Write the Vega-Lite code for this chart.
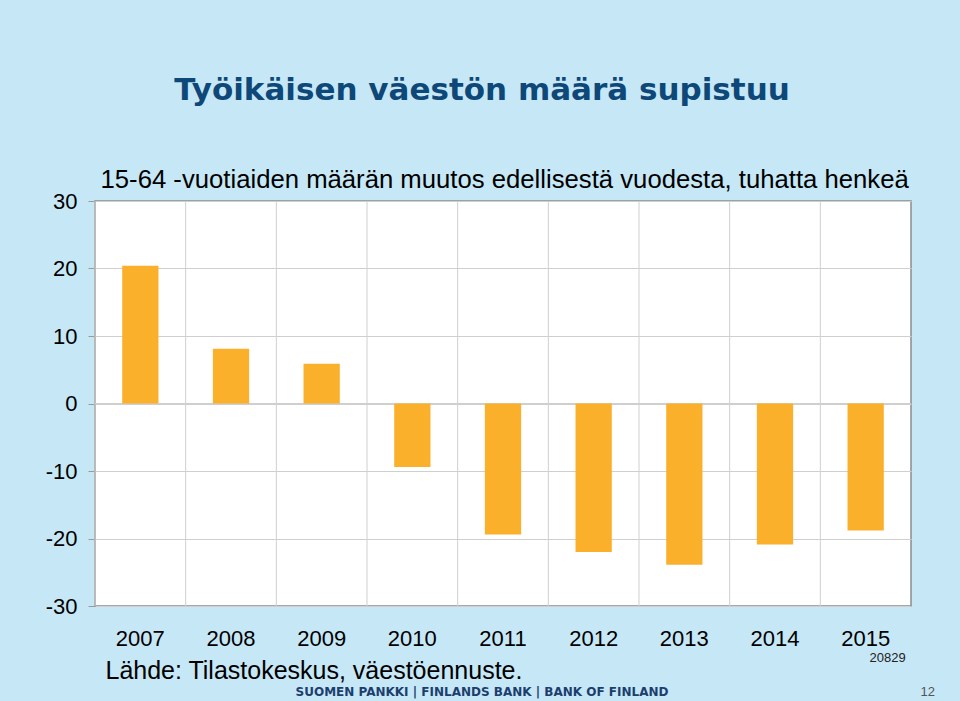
{
  "$schema": "https://vega.github.io/schema/vega-lite/v6.json",
  "width": 816,
  "height": 405,
  "autosize": {"type": "none"},
  "padding": {"left": 95, "top": 201, "right": 49, "bottom": 95},
  "background": "#c6e7f6",
  "title": {
    "text": "Työikäisen väestön määrä supistuu",
    "subtitle": "SUOMEN PANKKI | FINLANDS BANK | BANK OF FINLAND",
    "orient": "top",
    "anchor": "middle",
    "frame": "group",
    "dx": -21,
    "offset": -533,
    "subtitlePadding": 580,
    "font": "DejaVu Sans",
    "fontSize": 31,
    "fontWeight": "bold",
    "color": "#0d4878",
    "subtitleFont": "DejaVu Sans",
    "subtitleFontSize": 12,
    "subtitleFontWeight": "bold",
    "subtitleColor": "#1c3e6e"
  },
  "config": {
    "view": {"fill": "white", "stroke": "#8c8c8c", "strokeWidth": 1.5}
  },
  "datasets": {
    "muutos": [
      {"vuosi": "2007", "muutos": 20.4},
      {"vuosi": "2008", "muutos": 8.1},
      {"vuosi": "2009", "muutos": 5.9},
      {"vuosi": "2010", "muutos": -9.4},
      {"vuosi": "2011", "muutos": -19.4},
      {"vuosi": "2012", "muutos": -22.0},
      {"vuosi": "2013", "muutos": -23.9},
      {"vuosi": "2014", "muutos": -20.9},
      {"vuosi": "2015", "muutos": -18.8}
    ],
    "nolla": [{"arvo": 0}]
  },
  "layer": [
    {
      "data": {"name": "muutos"},
      "mark": {"type": "rule", "color": "#cfcfcf", "strokeWidth": 1},
      "encoding": {
        "x": {
          "field": "vuosi",
          "type": "ordinal",
          "bandPosition": 0,
          "scale": {"type": "band", "paddingInner": 0, "paddingOuter": 0},
          "axis": {
            "orient": "bottom",
            "labels": false,
            "ticks": false,
            "domain": false,
            "grid": false,
            "title": "20829",
            "titleFont": "Liberation Sans",
            "titleFontSize": 13,
            "titleFontWeight": "normal",
            "titleColor": "#222222",
            "titleAlign": "left",
            "titleBaseline": "alphabetic",
            "titleX": 774,
            "titleY": 55
          }
        }
      }
    },
    {
      "data": {"name": "nolla"},
      "mark": {"type": "rule", "color": "#cfcfcf", "strokeWidth": 1},
      "encoding": {
        "y": {
          "field": "arvo",
          "type": "quantitative",
          "scale": {"domain": [-30, 30], "nice": false},
          "axis": {
            "orient": "right",
            "labels": false,
            "ticks": false,
            "domain": false,
            "grid": false,
            "title": "12",
            "titleFont": "Liberation Sans",
            "titleFontSize": 13,
            "titleFontWeight": "normal",
            "titleColor": "#555555",
            "titleAngle": 0,
            "titleAlign": "left",
            "titleBaseline": "alphabetic",
            "titleX": 9,
            "titleY": 494
          }
        }
      }
    },
    {
      "data": {"name": "muutos"},
      "mark": {"type": "bar", "color": "#fbb02b", "width": {"band": 0.4}},
      "encoding": {
        "x": {
          "field": "vuosi",
          "type": "ordinal",
          "scale": {"type": "band", "paddingInner": 0, "paddingOuter": 0},
          "axis": {
            "orient": "bottom",
            "labelAngle": 0,
            "labelFont": "Liberation Sans",
            "labelFontSize": 22,
            "labelColor": "#000000",
            "labelPadding": 22,
            "ticks": false,
            "tickSize": 0,
            "domain": false,
            "grid": false,
            "title": "Lähde: Tilastokeskus, väestöennuste.",
            "titleFont": "Liberation Sans",
            "titleFontSize": 25,
            "titleFontWeight": "normal",
            "titleColor": "#000000",
            "titleAlign": "left",
            "titleBaseline": "alphabetic",
            "titleX": 10,
            "titleY": 72
          }
        },
        "y": {
          "field": "muutos",
          "type": "quantitative",
          "scale": {"domain": [-30, 30], "nice": false},
          "axis": {
            "orient": "left",
            "values": [-30, -20, -10, 0, 10, 20, 30],
            "labelExpr": "replace(datum.label, '−', '-')",
            "labelFont": "Liberation Sans",
            "labelFontSize": 22,
            "labelColor": "#000000",
            "labelPadding": 11,
            "labelOverlap": false,
            "labelBound": false,
            "tickSize": 7,
            "tickColor": "#9a9a9a",
            "domain": false,
            "grid": true,
            "gridColor": "#cfcfcf",
            "title": "15-64 -vuotiaiden määrän muutos edellisestä vuodesta, tuhatta henkeä",
            "titleFont": "Liberation Sans",
            "titleFontSize": 25.7,
            "titleFontWeight": "normal",
            "titleColor": "#000000",
            "titleAngle": 0,
            "titleAlign": "left",
            "titleBaseline": "alphabetic",
            "titleX": 5,
            "titleY": -14
          }
        }
      }
    }
  ],
  "resolve": {"axis": {"x": "independent", "y": "independent"}}
}
